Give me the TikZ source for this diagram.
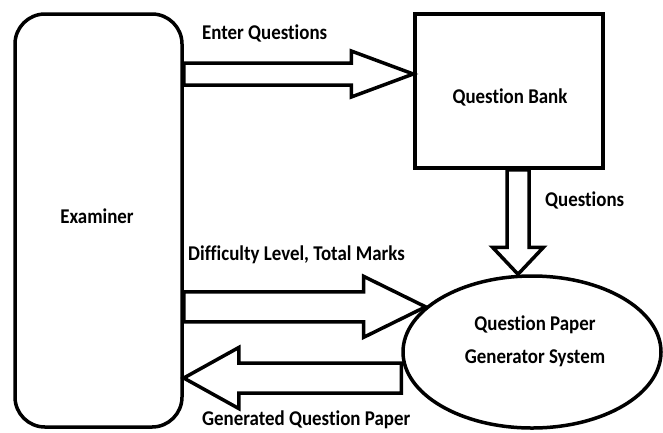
\documentclass[tikz,border=0pt]{standalone}
\usepackage{fontspec}
\setmainfont{Carlito}[Ligatures=NoCommon, FakeStretch=0.9]
\usetikzlibrary{calc,shapes}
\tikzset{
  basic/.style  = {draw, line width=3.5pt, font=\bfseries\fontsize{21}{33}\selectfont, align=center},
  actor/.style  = {basic, rectangle, rounded corners=30pt, minimum width=167pt, minimum height=413pt},
  store/.style  = {basic, rectangle, minimum width=188pt, minimum height=154pt},
  proc/.style   = {basic, ellipse, minimum width=258pt, minimum height=152pt},
  lbl/.style    = {font=\bfseries\fontsize{21}{33}\selectfont, inner sep=0pt, align=center},
  flow/.style   = {draw, line width=3.5pt, line join=miter}
}
% hollow block arrow: start, tip, shaft half width, head half width, head length
\newcommand{\flowarrow}[5]{%
  \coordinate (fa-s) at (#1);
  \coordinate (fa-t) at (#2);
  \coordinate (fa-n) at ($(fa-t)!#5!(fa-s)$);
  \draw[flow] ($(fa-s)!#3!90:(fa-t)$) -- ($(fa-n)!#3!90:(fa-t)$) -- ($(fa-n)!#4!90:(fa-t)$)
    -- (fa-t) -- ($(fa-n)!#4!-90:(fa-t)$) -- ($(fa-n)!#3!-90:(fa-t)$) -- ($(fa-s)!#3!-90:(fa-t)$) -- cycle;
}
\begin{document}
\begin{tikzpicture}[x=1pt,y=-1pt]
\useasboundingbox (0,0) rectangle (663,432);
\node[actor] (exam) at (98.5,220.5) {};
\node[lbl] (exam-text) at (97,216) {Examiner};
\node[store] (bank) at (509,91) {};
\node[lbl] (bank-text) at (510,97) {Question Bank};
\node[proc] (gen) at (532,352) {};
\node[lbl] (gen-text) at (535,341) {Question Paper\\Generator System};

\flowarrow{exam.east |- 0,74}{bank.west |- 0,74}{11pt}{23pt}{62pt}
\flowarrow{[xshift=9pt]bank.south}{[xshift=-14pt]gen.north}{11pt}{25.5pt}{27pt}
\flowarrow{exam.east |- gen.157}{gen.157}{15pt}{30.5pt}{62pt}
\flowarrow{gen.west |- 0,378}{exam.east |- 0,378}{15pt}{30.5pt}{55pt}

\node[lbl, anchor=west] (l-enter) at (202,33) {Enter Questions};
\node[lbl, anchor=west] (l-quest) at (545,200) {Questions};
\node[lbl, anchor=west] (l-diff) at (188,255) {Difficulty Level, Total Marks};
\node[lbl, anchor=west] (l-gen) at (202,420) {Generated Question Paper};
\end{tikzpicture}
\end{document}
